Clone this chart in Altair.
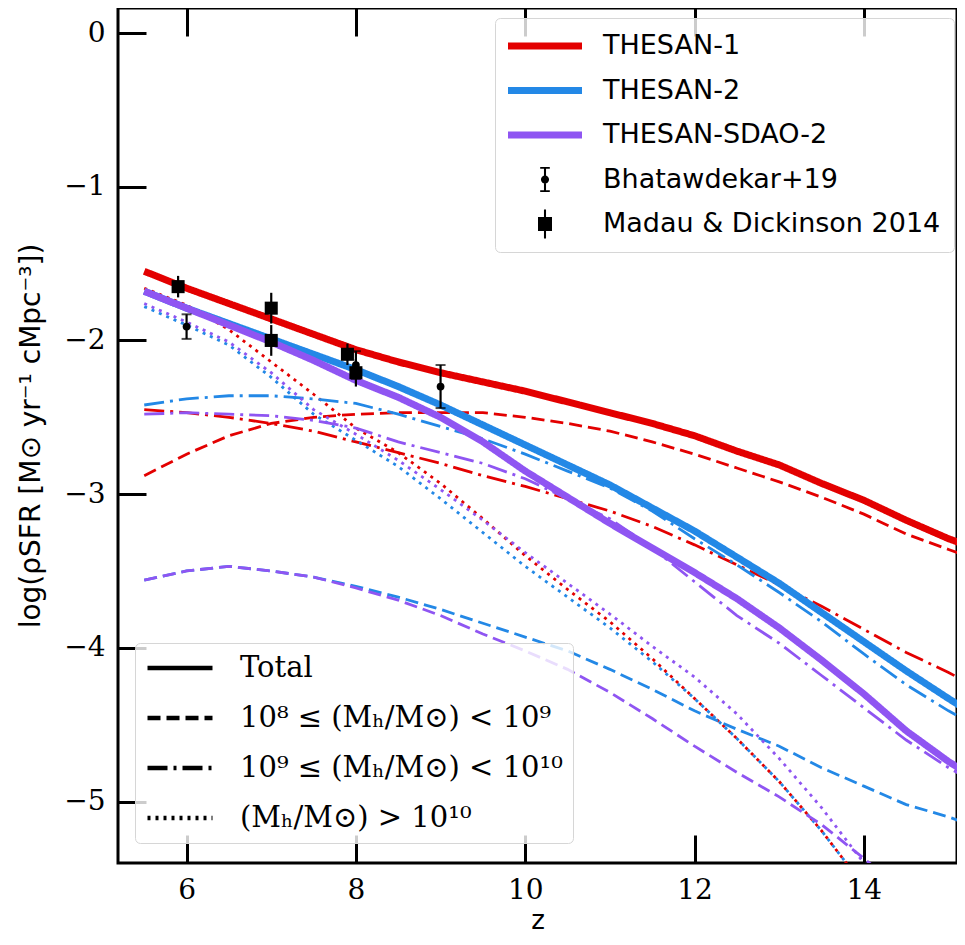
import altair as alt
import pandas as pd

# ---------------- data ----------------
Z = [5.5, 6.0, 6.5, 7.0, 7.5, 8.0, 8.5, 9.0, 9.5, 10.0, 10.5, 11.0, 11.5,
     12.0, 12.5, 13.0, 13.5, 14.0, 14.5, 15.0, 15.2]

SIMS = ["THESAN-1", "THESAN-2", "THESAN-SDAO-2"]
COMPONENTS = ["Total",
              "10⁸ ≤ (Mₕ/M⊙) < 10⁹",
              "10⁹ ≤ (Mₕ/M⊙) < 10¹⁰",
              "(Mₕ/M⊙) > 10¹⁰"]

# THESAN-1
t1_total = [-1.55, -1.66, -1.76, -1.86, -1.96, -2.06, -2.14, -2.21, -2.27, -2.33, -2.40,
            -2.47, -2.54, -2.62, -2.72, -2.81, -2.93, -3.04, -3.17, -3.29, -3.33]
t1_lo = [-2.88, -2.74, -2.62, -2.54, -2.50, -2.48, -2.47, -2.47, -2.47, -2.50, -2.54,
         -2.59, -2.66, -2.74, -2.83, -2.92, -3.02, -3.13, -3.26, -3.36, -3.40]
t1_mid = [-2.45, -2.47, -2.50, -2.54, -2.59, -2.66, -2.73, -2.80, -2.88, -2.95, -3.03,
          -3.11, -3.21, -3.33, -3.46, -3.59, -3.73, -3.88, -4.03, -4.16, -4.22]
t1_hi = [-1.66, -1.77, -1.93, -2.14, -2.35, -2.57, -2.73, -2.93, -3.16, -3.40, -3.62,
         -3.83, -4.07, -4.33, -4.59, -4.87, -5.19, -5.55]

# THESAN-2
t2_total = [-1.68, -1.79, -1.89, -1.99, -2.09, -2.19, -2.30, -2.42, -2.55, -2.68, -2.81,
            -2.94, -3.09, -3.24, -3.41, -3.58, -3.77, -3.96, -4.15, -4.33, -4.40]
t2_lo = [-3.56, -3.50, -3.47, -3.50, -3.54, -3.60, -3.67, -3.75, -3.84, -3.93, -4.02,
         -4.14, -4.27, -4.41, -4.53, -4.64, -4.78, -4.90, -5.02, -5.10, -5.14]
t2_mid = [-2.42, -2.38, -2.36, -2.36, -2.38, -2.41, -2.48, -2.56, -2.64, -2.74, -2.85,
          -2.96, -3.11, -3.29, -3.46, -3.64, -3.83, -4.04, -4.24, -4.41, -4.47]
t2_hi = [-1.78, -1.90, -2.03, -2.24, -2.48, -2.65, -2.82, -3.03, -3.25, -3.47, -3.67,
         -3.87, -4.09, -4.33, -4.59, -4.87, -5.19, -5.55]

# THESAN-SDAO-2
sd_total = [-1.68, -1.79, -1.90, -2.01, -2.13, -2.26, -2.37, -2.50, -2.66, -2.85, -3.02,
            -3.19, -3.35, -3.51, -3.68, -3.87, -4.08, -4.30, -4.54, -4.74, -4.81]
sd_lo = [-3.56, -3.50, -3.47, -3.50, -3.54, -3.61, -3.69, -3.79, -3.91, -4.02, -4.14,
         -4.29, -4.46, -4.64, -4.81, -4.97, -5.15, -5.37, -5.60]
sd_mid = [-2.48, -2.47, -2.48, -2.49, -2.52, -2.57, -2.66, -2.73, -2.80, -2.90, -3.03,
          -3.16, -3.35, -3.57, -3.79, -3.97, -4.18, -4.39, -4.60, -4.78, -4.84]
sd_hi = [-1.76, -1.88, -2.01, -2.21, -2.45, -2.61, -2.78, -2.97, -3.17, -3.38, -3.58,
         -3.78, -3.99, -4.19, -4.43, -4.72, -5.04, -5.40, -5.80]

# observations
md_z = [5.9, 7.0, 7.0, 7.9, 8.0]
md_v = [-1.65, -1.79, -2.00, -2.09, -2.21]
md_err = [0.07, 0.10, 0.10, 0.07, 0.09]

bh_z = [6.0, 8.0, 9.0]
bh_v = [-1.91, -2.16, -2.30]
bh_err = [0.08, 0.09, 0.14]

OBS = ["Bhatawdekar+19", "Madau & Dickinson 2014"]

# ---------------- styles ----------------
SIM_COLORS = {"THESAN-1": "#e30000", "THESAN-2": "#2388e6", "THESAN-SDAO-2": "#8f55f2"}
DASHES = [[1, 0], [13, 6], [20, 6, 3, 6], [3, 5]]

rows = []
curves = {
    "THESAN-1": [t1_total, t1_lo, t1_mid, t1_hi],
    "THESAN-2": [t2_total, t2_lo, t2_mid, t2_hi],
    "THESAN-SDAO-2": [sd_total, sd_lo, sd_mid, sd_hi],
}
for sim, series in curves.items():
    for comp, vals in zip(COMPONENTS, series):
        for z, v in zip(Z, vals):
            rows.append({"z": z, "v": v, "sim": sim, "component": comp})
lines_df = pd.DataFrame(rows)

md_df = pd.DataFrame({"z": md_z, "v": md_v, "err": md_err})
md_df["lo"] = md_df["v"] - md_df["err"]
md_df["hi"] = md_df["v"] + md_df["err"]
md_df["series"] = OBS[1]
bh_df = pd.DataFrame({"z": bh_z, "v": bh_v, "err": bh_err})
bh_df["lo"] = bh_df["v"] - bh_df["err"]
bh_df["hi"] = bh_df["v"] + bh_df["err"]
bh_df["series"] = OBS[0]
obs_df = pd.concat([bh_df, md_df], ignore_index=True)
caps_df = pd.DataFrame({"z": list(bh_df["z"]) * 2,
                        "v": list(bh_df["lo"]) + list(bh_df["hi"])})

xscale = alt.Scale(domain=[5.19, 15.1], nice=False, zero=False)
yscale = alt.Scale(domain=[-5.40, 0.163], nice=False, zero=False)

SERIF = "DejaVu Serif"
SANS = "DejaVu Sans"

x_bottom = alt.Axis(orient="bottom", values=[6, 8, 10, 12, 14], format="d",
                    offset=-28, tickSize=28, tickWidth=3, tickColor="black",
                    domain=False, grid=False, labelFont=SERIF, labelFontSize=28,
                    labelColor="black", labelPadding=13, labelFlush=False,
                    title="z", titleFont=SANS, titleFontSize=26,
                    titleFontWeight="normal", titleColor="black", titlePadding=3)
x_top = alt.Axis(orient="top", values=[6, 8, 10, 12, 14], offset=-28, tickSize=28,
                 tickWidth=3, tickColor="black", domain=False, grid=False,
                 labels=False, title=None)
y_left = alt.Axis(orient="left", values=[-5, -4, -3, -2, -1, 0], format="d",
                  offset=-28, tickSize=28, tickWidth=3, tickColor="black",
                  domain=False, grid=False, labelFont=SERIF, labelFontSize=28,
                  labelColor="black", labelPadding=13, labelFlush=False,
                  title="log(ρSFR [M⊙ yr⁻¹ cMpc⁻³])", titleFont=SANS,
                  titleFontSize=28, titleFontWeight="normal", titleColor="black",
                  titlePadding=18)

dash_legend = alt.Legend(title=None, orient="none", legendX=17, legendY=635,
                         direction="vertical", symbolType="stroke", symbolSize=4225,
                         symbolStrokeWidth=4.5, symbolStrokeColor="black",
                         labelFont=SERIF, labelFontSize=29, labelColor="black",
                         labelOffset=25, labelLimit=600, clipHeight=30, rowPadding=20,
                         padding=10, fillColor="rgba(255,255,255,0.8)",
                         strokeColor="#d6d6d6", cornerRadius=5)

BAR = "M-1,-0.095L1,-0.095L1,0.095L-1,0.095Z"
CIRC = ("M-0.11,0A0.11,0.11 0 1,1 0.11,0A0.11,0.11 0 1,1 -0.11,0Z "
        "M-0.028,-0.32L0.028,-0.32L0.028,0.32L-0.028,0.32Z "
        "M-0.13,-0.34L0.13,-0.34L0.13,-0.29L-0.13,-0.29Z "
        "M-0.13,0.29L0.13,0.29L0.13,0.34L-0.13,0.34Z")
SQ = ("M-0.19,-0.19L0.19,-0.19L0.19,0.19L-0.19,0.19Z "
      "M-0.028,-0.39L0.028,-0.39L0.028,0.39L-0.028,0.39Z")

ALL_SERIES = SIMS + OBS
top_legend = alt.Legend(title=None, orient="none", legendX=377, legendY=10,
                        direction="vertical", symbolSize=5476, symbolStrokeWidth=0,
                        symbolStrokeColor="transparent", symbolOpacity=1,
                        labelFont=SANS, labelFontSize=27, labelColor="black",
                        labelOffset=21, labelLimit=600, clipHeight=30, rowPadding=14.5,
                        padding=13, fillColor="rgba(255,255,255,0.8)",
                        strokeColor="#d6d6d6", cornerRadius=5)

layers = []
for i, sim in enumerate(SIMS):
    layer = alt.Chart(lines_df).transform_filter(
        alt.datum.sim == sim
    ).transform_calculate(
        lw="datum.component == 'Total' ? 'thick' : 'thin'"
    ).mark_line(color=SIM_COLORS[sim], clip=True, strokeCap="butt").encode(
        x=alt.X("z:Q", scale=xscale, axis=x_bottom if i == 0 else None),
        y=alt.Y("v:Q", scale=yscale, axis=y_left if i == 0 else alt.Undefined),
        strokeDash=alt.StrokeDash("component:N",
                                  scale=alt.Scale(domain=COMPONENTS, range=DASHES),
                                  legend=dash_legend),
        strokeWidth=alt.StrokeWidth("lw:N",
                                    scale=alt.Scale(domain=["thick", "thin"], range=[7, 2.8]),
                                    legend=None),
    )
    layers.append(layer)

err_rules = alt.Chart(obs_df).mark_rule(color="black", strokeWidth=2.2).encode(
    x=alt.X("z:Q", scale=xscale, axis=None),
    y=alt.Y("lo:Q", scale=yscale),
    y2="hi:Q",
)
caps = alt.Chart(caps_df).mark_tick(color="black", orient="horizontal", size=10,
                                     thickness=2).encode(
    x=alt.X("z:Q", scale=xscale, axis=None),
    y=alt.Y("v:Q", scale=yscale),
)
squares = alt.Chart(md_df).mark_square(color="black", size=170, opacity=1).encode(
    x=alt.X("z:Q", scale=xscale, axis=None),
    y=alt.Y("v:Q", scale=yscale),
)
circles = alt.Chart(bh_df).mark_circle(color="black", size=60, opacity=1).encode(
    x=alt.X("z:Q", scale=xscale, axis=None),
    y=alt.Y("v:Q", scale=yscale),
)
carrier = alt.Chart(obs_df).mark_point(filled=True, opacity=0, size=10).encode(
    x=alt.X("z:Q", scale=xscale, axis=x_top),
    y=alt.Y("v:Q", scale=yscale),
    color=alt.Color("series:N",
                    scale=alt.Scale(domain=ALL_SERIES,
                                    range=[SIM_COLORS[s] for s in SIMS] + ["black", "black"]),
                    legend=top_legend),
    shape=alt.Shape("series:N",
                    scale=alt.Scale(domain=ALL_SERIES, range=[BAR, BAR, BAR, CIRC, SQ]),
                    legend=top_legend),
)

chart = alt.layer(*layers, err_rules, caps, squares, circles, carrier).resolve_axis(
    x="independent"
).properties(
    width=839, height=855,
    autosize=alt.AutoSizeParams(type="none"),
    padding={"left": 110, "top": 0, "right": 0, "bottom": 74},
    background="white",
).configure_view(stroke="black", strokeWidth=3)

chart.save("out.html", embed_options={"renderer": "svg", "actions": False})
